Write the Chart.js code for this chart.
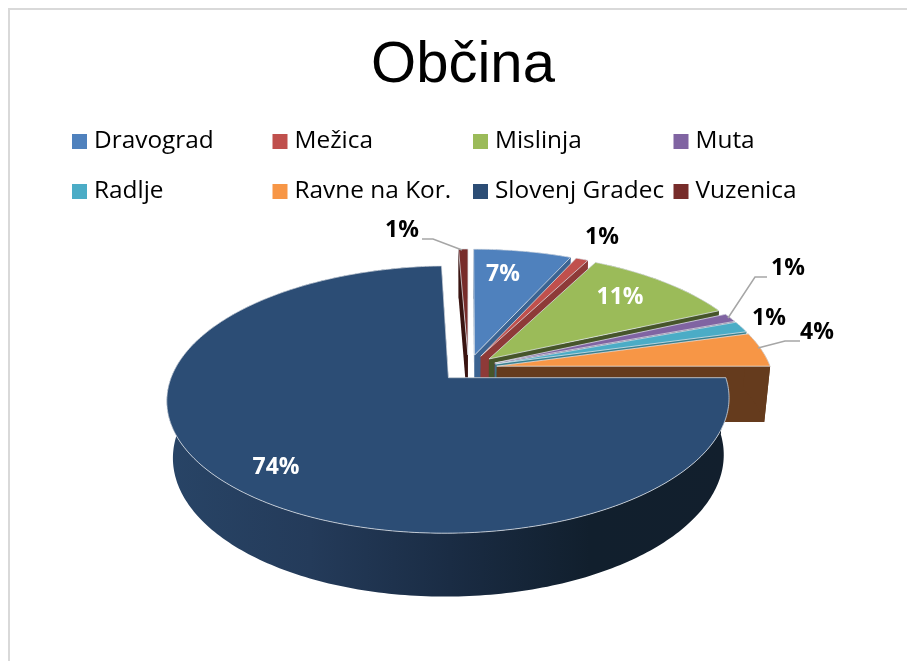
<!DOCTYPE html>
<html>
<head>
<meta charset="utf-8">
<style>
  html, body { margin: 0; padding: 0; background: #fff; overflow: hidden; }
  #frame { position: absolute; left: 8px; top: 8px; right: 0; bottom: 0; border-left: 2px solid #d9d9d9; border-top: 2px solid #d9d9d9; }
  #chart { position: absolute; left: 0; top: 0; }
</style>
<script src="https://cdn.jsdelivr.net/npm/chart.js@4"></script>
</head>
<body>
<div id="frame"></div>
<canvas id="chart" width="907" height="661"></canvas>
<script>
const chartTitle = "Občina";
const categories = ["Dravograd", "Mežica", "Mislinja", "Muta", "Radlje", "Ravne na Kor.", "Slovenj Gradec", "Vuzenica"];
const shares = [6.75, 0.85, 10.6, 1.1, 1.4, 4.3, 74.35, 0.65];
const topColors = ["#4f81bd", "#c0504d", "#9bbb59", "#8064a2", "#4bacc6", "#f79646", "#2c4d75", "#772c2a"];
const sideColors = ["#3b6391", "#8e3a38", "#46552a", "#5f4a7a", "#37808f", "#653b1d", null, "#3a1411"];

// back to front
const paintOrder = [7, 0, 1, 2, 3, 4, 5, 6];

// where the percent labels sit, centre of text
const labelSpots = [[503, 274], [602, 237], [620, 297], [788, 268], [769, 318], [817, 332], [276, 467], [402, 230]];
const labelWhite = [true, false, true, false, false, false, true, false];
const leaders = [
  [[422, 239], [433, 239], [462, 250]],
  [[767, 277], [755, 277], [728, 318]],
  [[800, 341], [785, 341], [758, 348]],
];

// camera used for the tilted pie
const originX = 468.5, originY = 368;
const tilt = 0.4635, camDist = 1700, depth = 57, depthPush = 34;

function project(px, py, t) {
  const s = 1 / (1 - (py - depthPush * t) / camDist);
  return [originX + px * s, originY + (tilt * py + depth * t) * s];
}

function trace(ctx, pts) {
  ctx.beginPath();
  pts.forEach((p, i) => (i ? ctx.lineTo(p[0], p[1]) : ctx.moveTo(p[0], p[1])));
  ctx.closePath();
}

const tiltedPie = {
  id: "tiltedPie",
  beforeDatasetDraw(chart, args) {
    const ctx = chart.ctx;
    const arcs = args.meta.data;

    const rimShade = ctx.createLinearGradient(170, 0, 730, 0);
    rimShade.addColorStop(0, "#284466");
    rimShade.addColorStop(0.25, "#243b5a");
    rimShade.addColorStop(0.5, "#1a2c44");
    rimShade.addColorStop(0.75, "#111f2d");
    rimShade.addColorStop(1, "#121f2d");

    paintOrder.forEach((i) => {
      const arc = arcs[i];
      const { startAngle, endAngle, outerRadius } = arc;
      const mid = (startAngle + endAngle) / 2;
      const off = arc.options.offset;
      const ax = Math.cos(mid) * off;
      const ay = Math.sin(mid) * off;

      const steps = Math.max(4, Math.ceil((endAngle - startAngle) * 60));
      const rim = [];
      for (let k = 0; k <= steps; k++) {
        const a = startAngle + ((endAngle - startAngle) * k) / steps;
        rim.push([ax + Math.cos(a) * outerRadius, ay + Math.sin(a) * outerRadius]);
      }

      const at = (p, t) => project(p[0], p[1], t);
      const apex = [ax, ay];
      ctx.fillStyle = sideColors[i] || rimShade;

      // two cut faces
      [rim[0], rim[steps]].forEach((edge) => {
        trace(ctx, [at(apex, 0), at(edge, 0), at(edge, 1), at(apex, 1)]);
        ctx.fill();
      });
      // outer wall
      trace(ctx, rim.map((p) => at(p, 0)).concat(rim.slice().reverse().map((p) => at(p, 1))));
      ctx.fill();

      // top
      trace(ctx, [at(apex, 0)].concat(rim.map((p) => at(p, 0))));
      ctx.fillStyle = topColors[i];
      ctx.fill();
      ctx.strokeStyle = "rgba(225,230,235,0.75)";
      ctx.lineWidth = 1;
      ctx.stroke();
    });
    return false;
  },
  afterDraw(chart) {
    const ctx = chart.ctx;
    ctx.save();

    // legend, four fixed columns
    ctx.font = '24.4px "Open Sans"';
    ctx.textBaseline = "middle";
    ctx.textAlign = "left";
    categories.forEach((name, i) => {
      const x = 72 + 200.5 * (i % 4);
      const y = 141 + 50 * Math.floor(i / 4);
      ctx.fillStyle = topColors[i];
      ctx.fillRect(x, y - 7, 15, 15);
      ctx.fillStyle = "#000";
      ctx.fillText(name, x + 22, y);
    });

    ctx.strokeStyle = "#a6a6a6";
    ctx.lineWidth = 1.5;
    leaders.forEach((line) => {
      ctx.beginPath();
      line.forEach((p, i) => (i ? ctx.lineTo(p[0], p[1]) : ctx.moveTo(p[0], p[1])));
      ctx.stroke();
    });

    ctx.font = 'bold 23px "Open Sans"';
    ctx.textAlign = "center";
    shares.forEach((v, i) => {
      ctx.fillStyle = labelWhite[i] ? "#fff" : "#000";
      ctx.fillText(Math.round(v) + "%", labelSpots[i][0], labelSpots[i][1]);
    });
    ctx.restore();
  },
};

new Chart(document.getElementById("chart"), {
  type: "pie",
  data: {
    labels: categories,
    datasets: [{ data: shares, backgroundColor: topColors, offset: 28.6, borderWidth: 0 }],
  },
  options: {
    responsive: false,
    animation: false,
    radius: 274,
    layout: { padding: { left: 19, top: 31 } },
    plugins: {
      legend: { display: false },
      tooltip: { enabled: false },
      title: {
        display: true,
        text: chartTitle,
        color: "#000",
        font: { family: '"Liberation Sans"', size: 58, weight: "normal" },
        padding: 0,
      },
    },
  },
  plugins: [tiltedPie],
});
</script>
</body>
</html>
